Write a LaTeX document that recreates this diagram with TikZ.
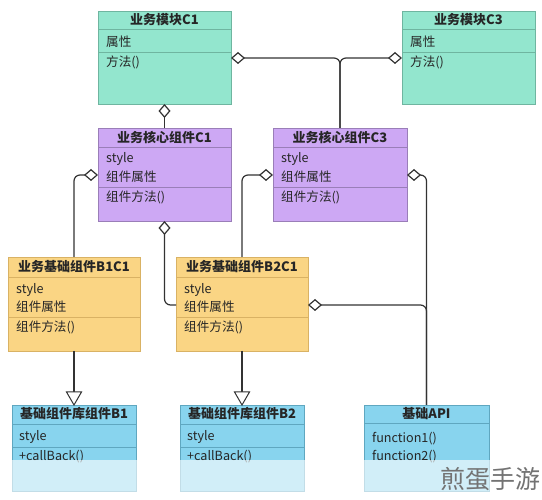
\documentclass[tikz,border=0pt]{standalone}
\usepackage{fontspec}
\setmainfont{Noto Sans CJK SC}
\usetikzlibrary{arrows.meta}
\definecolor{tealf}{HTML}{93E6CE}
\definecolor{tealb}{HTML}{6FB5A0}
\definecolor{purpf}{HTML}{CDA8F4}
\definecolor{purpb}{HTML}{9A7EB8}
\definecolor{orgf}{HTML}{FAD584}
\definecolor{orgb}{HTML}{D9B264}
\definecolor{bluef}{HTML}{88D4EE}
\definecolor{blueb}{HTML}{5FA7C0}
\definecolor{linec}{HTML}{333333}
\tikzset{
  box/.style={draw, line width=0.8pt, anchor=north west, inner sep=0pt, outer sep=0pt},
  hdr/.style={font=\fontsize{13}{15}\selectfont\bfseries, inner sep=0pt, text=black!85},
  row/.style={font=\fontsize{12.6}{14}\selectfont, anchor=west, inner sep=0pt, text=black!85},
  sepline/.style={line width=0.8pt},
  conn/.style={draw=linec, line width=1.2pt, rounded corners=6pt},
  dia/.style={{Diamond[open,length=14pt,width=12pt]}-},
  gentip/.style={draw=linec, line width=1pt, fill=white, line join=miter},
}
\begin{document}
\begin{tikzpicture}[x=1pt,y=-1pt]
\useasboundingbox (0,0) rectangle (542,500);
\fill[white] (0,0) rectangle (542,500);

% ---------- top modules ----------
\node[box, fill=tealf, draw=tealb, minimum width=133pt, minimum height=93pt] (c1) at (98,11) {};
\draw[sepline, tealb] (c1.west |- 0,29) -- (c1.east |- 0,29);
\draw[sepline, tealb] (c1.west |- 0,52) -- (c1.east |- 0,52);
\node[hdr] (c1h) at (164.5,20) {业务模块C1};
\node[row] (c1a) at (106,42) {属性};
\node[row] (c1m) at (106,62) {方法()};

\node[box, fill=tealf, draw=tealb, minimum width=133pt, minimum height=93pt] (c3) at (402,11) {};
\draw[sepline, tealb] (c3.west |- 0,29) -- (c3.east |- 0,29);
\draw[sepline, tealb] (c3.west |- 0,52) -- (c3.east |- 0,52);
\node[hdr] (c3h) at (468.5,20) {业务模块C3};
\node[row] (c3a) at (410,42) {属性};
\node[row] (c3m) at (410,62) {方法()};

% ---------- core components ----------
\node[box, fill=purpf, draw=purpb, minimum width=133pt, minimum height=93pt] (k1) at (98,128) {};
\draw[sepline, purpb] (k1.west |- 0,147) -- (k1.east |- 0,147);
\draw[sepline, purpb] (k1.west |- 0,187) -- (k1.east |- 0,187);
\node[hdr] (k1h) at (164.5,137.5) {业务核心组件C1};
\node[row] (k1s) at (106,159) {style};
\node[row] (k1a) at (106,177) {组件属性};
\node[row] (k1m) at (106,197) {组件方法()};

\node[box, fill=purpf, draw=purpb, minimum width=134pt, minimum height=93pt] (k3) at (273,128) {};
\draw[sepline, purpb] (k3.west |- 0,147) -- (k3.east |- 0,147);
\draw[sepline, purpb] (k3.west |- 0,187) -- (k3.east |- 0,187);
\node[hdr] (k3h) at (340,137.5) {业务核心组件C3};
\node[row] (k3s) at (281,159) {style};
\node[row] (k3a) at (281,177) {组件属性};
\node[row] (k3m) at (281,197) {组件方法()};

% ---------- basic business components ----------
\node[box, fill=orgf, draw=orgb, minimum width=132pt, minimum height=94pt] (b1) at (8,257) {};
\draw[sepline, orgb] (b1.west |- 0,277) -- (b1.east |- 0,277);
\draw[sepline, orgb] (b1.west |- 0,317) -- (b1.east |- 0,317);
\node[hdr] (b1h) at (74,267) {业务基础组件B1C1};
\node[row] (b1s) at (16,290) {style};
\node[row] (b1a) at (16,307) {组件属性};
\node[row] (b1m) at (16,327) {组件方法()};

\node[box, fill=orgf, draw=orgb, minimum width=132pt, minimum height=94pt] (b2) at (176,257) {};
\draw[sepline, orgb] (b2.west |- 0,277) -- (b2.east |- 0,277);
\draw[sepline, orgb] (b2.west |- 0,317) -- (b2.east |- 0,317);
\node[hdr] (b2h) at (242,267) {业务基础组件B2C1};
\node[row] (b2s) at (184,290) {style};
\node[row] (b2a) at (184,307) {组件属性};
\node[row] (b2m) at (184,327) {组件方法()};

% ---------- library components ----------
\node[box, fill=bluef, draw=blueb, minimum width=124pt, minimum height=86pt] (l1) at (12,405) {};
\draw[sepline, blueb] (l1.west |- 0,424) -- (l1.east |- 0,424);
\draw[sepline, blueb] (l1.west |- 0,447) -- (l1.east |- 0,447);
\node[hdr] (l1h) at (74,414) {基础组件库组件B1};
\node[row] (l1s) at (19,437) {style};
\node[row] (l1m) at (19,457) {+callBack()};

\node[box, fill=bluef, draw=blueb, minimum width=124pt, minimum height=86pt] (l2) at (180,405) {};
\draw[sepline, blueb] (l2.west |- 0,424) -- (l2.east |- 0,424);
\draw[sepline, blueb] (l2.west |- 0,447) -- (l2.east |- 0,447);
\node[hdr] (l2h) at (242,414) {基础组件库组件B2};
\node[row] (l2s) at (187,437) {style};
\node[row] (l2m) at (187,457) {+callBack()};

\node[box, fill=bluef, draw=blueb, minimum width=125pt, minimum height=86pt] (api) at (364,405) {};
\draw[sepline, blueb] (api.west |- 0,423) -- (api.east |- 0,423);
\node[hdr] (apih) at (426.5,414) {基础API};
\node[row] (apif1) at (372,439) {function1()};
\node[row] (apif2) at (372,457) {function2()};

% ---------- connectors ----------
\draw[conn, dia] ([yshift=-47pt]c1.north east) -| (k3.north);
\draw[conn, dia] ([yshift=-47pt]c3.north west) -| (k3.north);
\draw[conn, dia] (c1.south) -- (k1.north);
\draw[conn, dia] ([yshift=-47pt]k1.north west) -| (b1.north);
\draw[conn, dia] (k1.south) |- ([yshift=-48pt]b2.north west);
\draw[conn, dia] ([yshift=-47pt]k3.north west) -| (b2.north);
\draw[conn, dia] ([yshift=-47pt]k3.north east) -| (api.north);
\draw[conn, dia] ([yshift=-48pt]b2.north east) -| (api.north);
% generalisation: line to the back of an open triangle
\draw[conn] (b1.south) -- ([yshift=13pt]l1.north);
\draw[gentip] (l1.north) -- ++(-7.5,-13) -- ++(15,0) -- cycle;
\draw[conn] (b2.south) -- ([yshift=13pt]l2.north);
\draw[gentip] (l2.north) -- ++(-7.5,-13) -- ++(15,0) -- cycle;

% ---------- faded bottom band and watermark ----------
\fill[white, opacity=0.62] (0,460) rectangle (542,500);
\node[font=\fontsize{25}{27}\selectfont, text=black!55, anchor=east, inner sep=0pt] (wm) at (541,479) {煎蛋手游};
\end{tikzpicture}
\end{document}
